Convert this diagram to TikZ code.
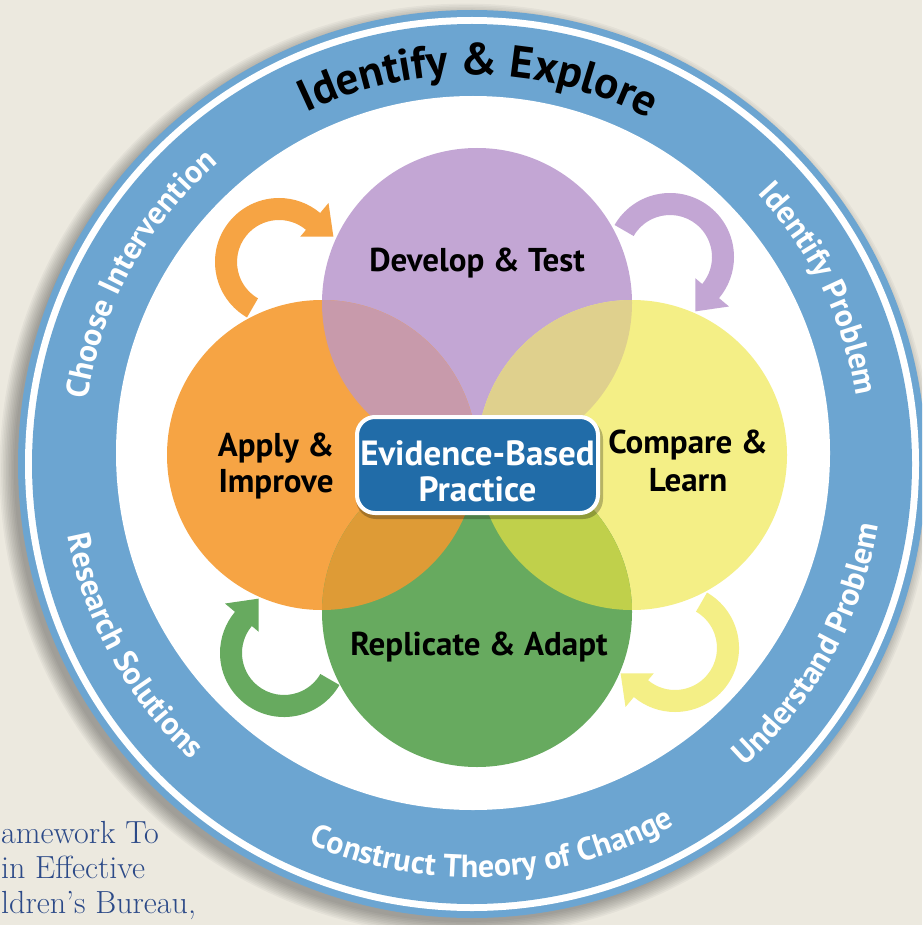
\documentclass[tikz,border=0pt]{standalone}
\usepackage{fontspec}
\setsansfont{PT Sans}
\usetikzlibrary{decorations.text}
\definecolor{bg}{HTML}{ECE9DF}
\definecolor{ringblue}{HTML}{6CA5D1}
\definecolor{cpurple}{HTML}{C3A6D4}
\definecolor{corange}{HTML}{F6A444}
\definecolor{cyellow}{HTML}{F4EF86}
\definecolor{cgreen}{HTML}{67AA5F}
\definecolor{lPO}{HTML}{C89AAB}
\definecolor{lPY}{HTML}{DFD08D}
\definecolor{lOG}{HTML}{DE9B36}
\definecolor{lYG}{HTML}{C0D04B}
\definecolor{boxblue}{HTML}{216CA8}
\definecolor{capblue}{HTML}{2C4A88}
\newcommand\ringfont{\sffamily\bfseries\fontsize{32pt}{32pt}\selectfont}
\newcommand\topfont{\sffamily\bfseries\fontsize{45pt}{45pt}\selectfont}
\newcommand\cycarrow[2]{%
  \begin{scope}[rotate around={#2:(477,-455)}]
  \begin{scope}[shift={(279,-262)}]
  \fill[#1] (240:64) arc[start angle=240,end angle=50,radius=64]
     -- (50:77) -- (25:60) -- (50:33) -- (50:42)
     arc[start angle=50,end angle=240,radius=42] -- cycle;
  \end{scope}
  \end{scope}}
\begin{document}
\begin{tikzpicture}[x=1pt,y=1pt,
  ctext/.style={font=\sffamily\bfseries\fontsize{33pt}{33pt}\selectfont, text=black, anchor=base, inner sep=0pt},
  btext/.style={font=\sffamily\bfseries\fontsize{35pt}{35pt}\selectfont, text=white, anchor=base, inner sep=0pt},
  captext/.style={font=\fontsize{32pt}{32pt}\selectfont, text=capblue, anchor=base west, inner sep=0pt},
  ringtext/.style={decorate, decoration={text along path, text align=center, text color=white, text={|\ringfont|#1}}}
]
\useasboundingbox (0,0) rectangle (922,-925);
\clip (0,0) rectangle (922,-925);
\fill[bg] (0,0) rectangle (922,-925);
\coordinate (C) at (472,-464);
\coordinate (D) at (473,-453);
% caption
\node[captext] (cap1) at (1,-843) {amework To};
\node[captext] (cap2) at (1,-878) {in Effective};
\node[captext] (cap3) at (1,-913) {ldren’s Bureau,};
% shadow
\foreach \k in {0,...,9} \fill[black,opacity=0.035] (466,-470) circle (452+1.6*\k);
% ring
\fill[ringblue] (C) circle (454);
\fill[white] (C) circle (447);
\fill[ringblue] (C) circle (440);
\fill[white] (D) circle (357);
% circles
\coordinate (P) at (477,-303);
\coordinate (O) at (322,-455);
\coordinate (Y) at (632,-455);
\coordinate (G) at (477,-612);
\fill[cpurple] (P) circle (155);
\fill[corange] (O) circle (155);
\fill[cyellow] (Y) circle (155);
\fill[cgreen] (G) circle (155);
\begin{scope}
  \clip (P) circle (155);
  \fill[lPO] (O) circle (155);
  \fill[lPY] (Y) circle (155);
\end{scope}
\begin{scope}
  \clip (G) circle (155);
  \fill[lOG] (O) circle (155);
  \fill[lYG] (Y) circle (155);
\end{scope}
% arrows
\cycarrow{corange}{0}
\cycarrow{cpurple}{-90}
\cycarrow{cyellow}{-180}
\cycarrow{cgreen}{-270}
% circle labels
\node[ctext] (dev) at (477,-271) {Develop \& Test};
\node[ctext] (app1) at (276,-456) {Apply \&};
\node[ctext] (app2) at (276,-492) {Improve};
\node[ctext] (cmp1) at (688,-453) {Compare \&};
\node[ctext] (cmp2) at (688,-491) {Learn};
\node[ctext] (rep) at (479,-655) {Replicate \& Adapt};
% centre box
\fill[black,opacity=0.25,rounded corners=20pt] (356,-419) rectangle (603,-519);
\node[draw=white, line width=4pt, fill=boxblue, rounded corners=18pt,
      minimum width=241pt, minimum height=96pt, inner sep=0pt] (ebp) at (477.5,-465) {};
\node[btext] (ebp1) at (477.5,-465) {Evidence-Based};
\node[btext] (ebp2) at (477.5,-501) {Practice};
% ring texts
\begin{scope}[shift={(472,-458)}]
\path[decorate, decoration={text along path, text align=center, text color=black,
   text={|\topfont|Identify {\&} Explore}}] (159:383) arc[start angle=159,end angle=19,radius=383];
\path[ringtext={Choose Intervention}] (221:389) arc[start angle=221,end angle=81,radius=389];
\path[ringtext={Identify Problem}] (96:389) arc[start angle=96,end angle=-44,radius=389];
\path[ringtext={Understand Problem}] (-99:412) arc[start angle=-99,end angle=41,radius=412];
\path[ringtext={Construct Theory of Change}] (-162:419) arc[start angle=-162,end angle=-12,radius=419];
\path[ringtext={Research Solutions}] (139:412) arc[start angle=139,end angle=279,radius=412];
\end{scope}
\end{tikzpicture}
\end{document}
